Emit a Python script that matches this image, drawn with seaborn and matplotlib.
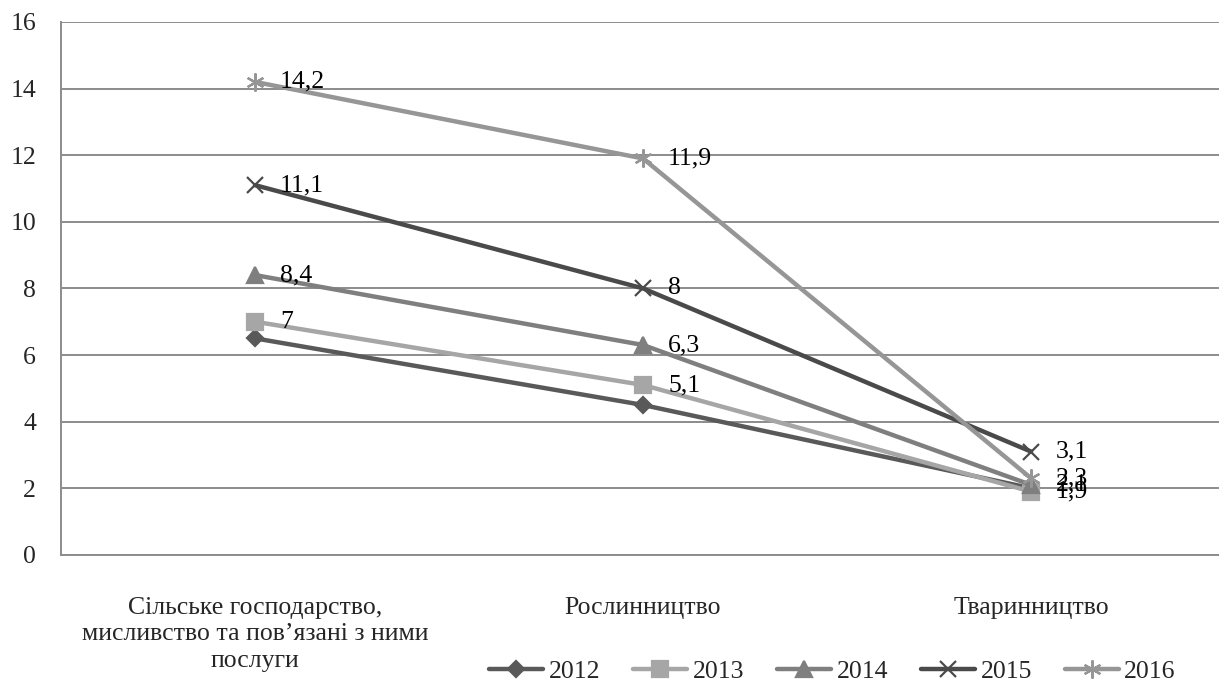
import matplotlib
matplotlib.use("Agg")
import matplotlib.pyplot as plt
import seaborn as sns

categories = [
    "Сільське господарство,\nмисливство та пов’язані з ними\nпослуги",
    "Рослинництво",
    "Тваринництво",
]
years = ["2012", "2013", "2014", "2015", "2016"]
values_2012 = [6.5, 4.5, 2.0]
values_2013 = [7.0, 5.1, 1.9]
values_2014 = [8.4, 6.3, 2.1]
values_2015 = [11.1, 8.0, 3.1]
values_2016 = [14.2, 11.9, 2.3]
yticks = [0, 2, 4, 6, 8, 10, 12, 14, 16]

series = [values_2012, values_2013, values_2014, values_2015, values_2016]
# the 2012 series is drawn without value labels
show_labels = [False, True, True, True, True]
colors = ["#595959", "#a6a6a6", "#7f7f7f", "#4a4a4a", "#969696"]
markers = ["D", "s", "^", "x", (6, 2, 0)]
msizes = [8, 11, 11, 12, 13]

sns.set_theme(style="white")
plt.rcParams["font.family"] = ["Liberation Serif", "DejaVu Serif"]
FS = 18.5

fig = plt.figure(figsize=(12.19, 6.85), dpi=100)
ax = fig.add_axes([0.05, 0.19, 0.955, 0.778])

def fmt(v):
    s = f"{v:.1f}".rstrip("0").rstrip(".")
    return s.replace(".", ",")

for year, vals, c, m, ms, lab in zip(years, series, colors, markers, msizes, show_labels):
    sns.lineplot(x=list(range(len(categories))), y=vals, ax=ax, color=c, lw=3.2,
                 marker=m, markersize=ms, markeredgecolor=c, markeredgewidth=1.6,
                 label=year, sort=False, legend=False)
    if lab:
        for i, v in enumerate(vals):
            ax.annotate(fmt(v), (i, v), xytext=(18, 0), textcoords="offset points",
                        va="center", ha="left", fontsize=FS, color="black")

ax.set_xlim(-0.5, 2.5)
ax.set_ylim(0, 16)
ax.set_yticks(yticks)
ax.set_yticklabels([str(t) for t in yticks], fontsize=FS)
ax.set_xticks(range(len(categories)))
ax.set_xticklabels(categories, fontsize=FS, linespacing=1.28)
ax.tick_params(axis="x", length=0, pad=30)
ax.tick_params(axis="y", length=0, pad=18)
ax.yaxis.grid(True, color="#8c8c8c", lw=1.4)
ax.set_axisbelow(True)
for s in ["top", "right"]:
    ax.spines[s].set_visible(False)
for s in ["left", "bottom"]:
    ax.spines[s].set_color("#8c8c8c")
    ax.spines[s].set_linewidth(1.4)
ax.set_xlabel("")
ax.set_ylabel("")

handles, labels = ax.get_legend_handles_labels()
fig.legend(handles, labels, loc="center", ncol=5, bbox_to_anchor=(0.683, 0.019),
           frameon=False, fontsize=FS, handlelength=2.1, handletextpad=0.2,
           columnspacing=1.3)

fig.savefig("out.png", dpi=100)
